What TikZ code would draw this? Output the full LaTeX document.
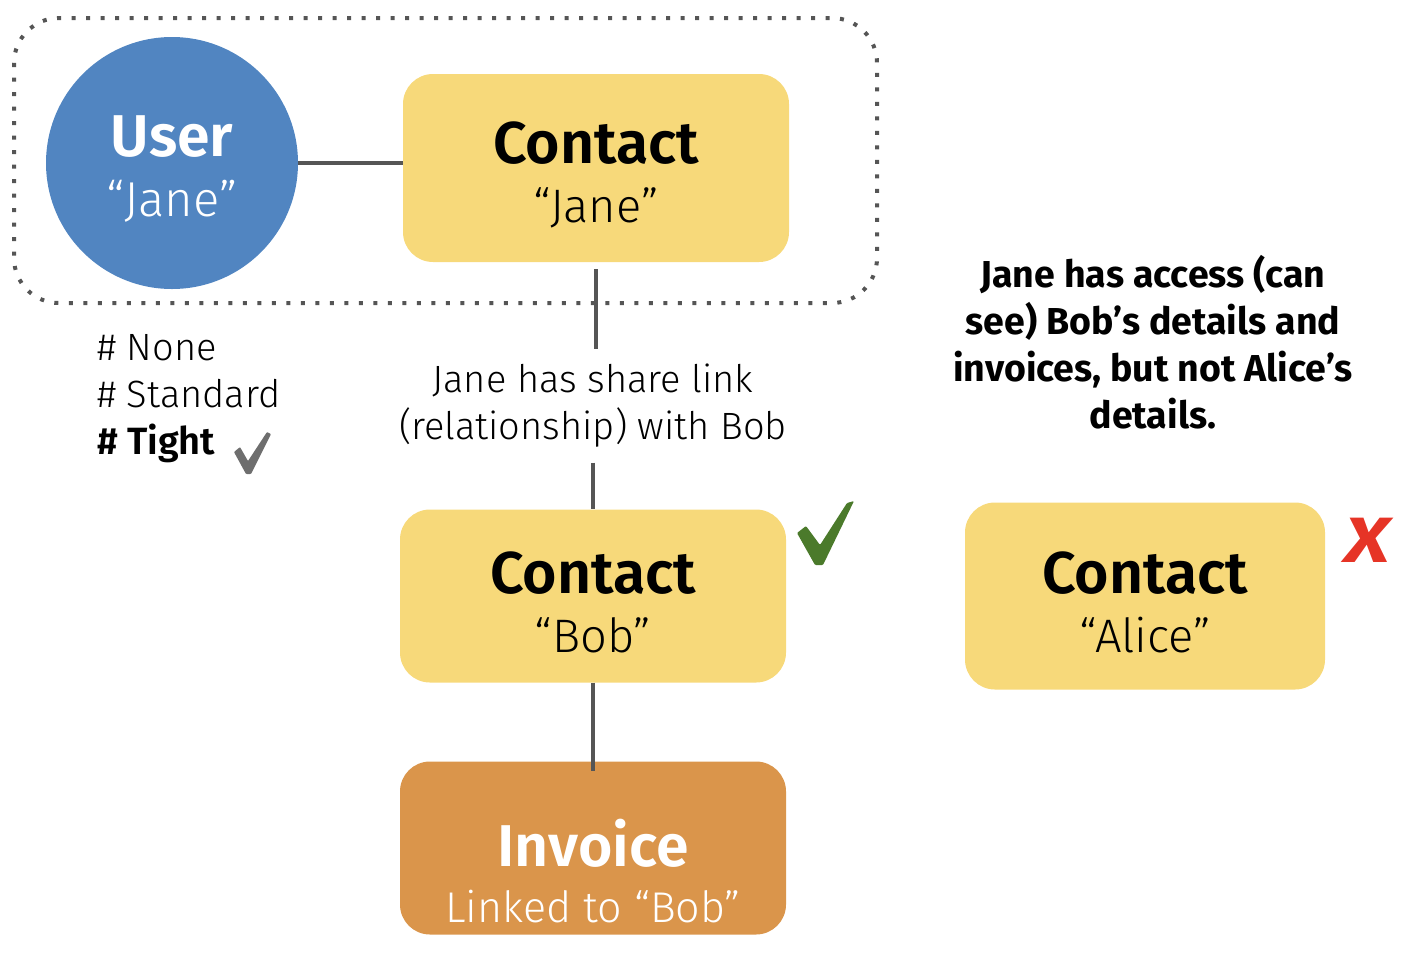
\documentclass[tikz,border=0pt]{standalone}
\usepackage{fontspec}
\setmainfont{Fira Sans}
\IfFontExistsTF{Fira Sans Light}{\newfontfamily\lightfont{Fira Sans Light}}{\newfontfamily\lightfont{Fira Sans}}

\definecolor{userblue}{HTML}{5185C1}
\definecolor{contactyellow}{HTML}{F7D97A}
\definecolor{invoiceorange}{HTML}{DA954B}
\definecolor{okgreen}{HTML}{4B7A2B}
\definecolor{nored}{HTML}{E63426}
\definecolor{linegray}{HTML}{555555}
\definecolor{markgray}{HTML}{6E6E6E}

\tikzset{
  entity/.style={rounded corners=30pt, minimum width=386pt, align=center, inner sep=0pt,
                 font=\lightfont\fontsize{47}{59}\selectfont},
  contact/.style={entity, fill=contactyellow, text=black},
  link/.style={draw=linegray, line width=3.5pt},
  note/.style={align=center, inner sep=0pt, font=\fontsize{35}{47}\selectfont}
}
\newcommand\titletext[2][55pt]{{\rule{0pt}{#1}\fontsize{59}{58}\selectfont\bfseries #2}}

\begin{document}
\begin{tikzpicture}[x=1pt,y=-1pt]
  \useasboundingbox (0,0) rectangle (1418,954);

% group of user and own contact
  \draw[linegray, line width=4pt, dash pattern=on 4pt off 10.5pt, rounded corners=45pt]
       (14,18) rectangle (877,303);

  \node[circle, fill=userblue, minimum size=252pt, inner sep=0pt, align=center, text=white,
        font=\lightfont\fontsize{49}{60}\selectfont] (user) at (172,163)
        {\titletext[52pt]{User}\\“Jane”};
  \node[contact, minimum height=188pt] (contactJane) at (596,168) {\titletext{Contact}\\“Jane”};
  \node[contact, minimum height=173pt] (contactBob) at (593,596) {\titletext{Contact}\\“Bob”};
  \node[entity, fill=invoiceorange, text=white, minimum height=173pt,
        font=\lightfont\fontsize{43}{56}\selectfont] (invoice) at (593,848)
       {\titletext[94pt]{Invoice}\\Linked to “Bob”};
  \node[contact, minimum width=360pt, minimum height=187pt] (contactAlice) at (1145,596)
       {\titletext{Contact}\\“Alice”};

% notes
  \node[note, font=\lightfont\fontsize{38}{47}\selectfont, minimum height=113pt] (shareNote) at (593,406)
       {Jane has share link\\(relationship) with Bob};
  \node[note, font=\bfseries\fontsize{37.5}{47}\selectfont] (accessNote) at (1153,342)
       {Jane has access (can\\see) Bob’s details and\\invoices, but not Alice’s\\details.};
  \node[note, align=left, anchor=north west, font=\lightfont\fontsize{38}{47}\selectfont] (levels) at (97,334)
       {\# None\\\# Standard\\{\bfseries\# Tight}};

% marks
  \fill[markgray, rounded corners=0.8pt] (234,452) -- (240,447) -- (248,461) -- (267,432)
       -- (271,434) -- (251,474) -- (246,474) -- cycle;
  \fill[okgreen, rounded corners=1pt] (797,533) -- (806,526) -- (820,545) -- (847,503)
       -- (854,501) -- (823,565) -- (815,565) -- cycle;
  \node[text=nored, font=\bfseries\itshape\fontsize{64}{64}\selectfont, xscale=1.25, transform shape]
       (aliceMark) at (1367,540) {X};

% connectors
  \draw[link] (user.east) -- (user.east -| contactJane.west);
  \draw[link] ([yshift=-7pt]contactJane.south) -- (contactJane.south |- shareNote.north);
  \draw[link] (contactBob.north |- shareNote.south) -- (contactBob.north);
  \draw[link] (contactBob.south) -- ([yshift=-10pt]invoice.north);
\end{tikzpicture}
\end{document}
